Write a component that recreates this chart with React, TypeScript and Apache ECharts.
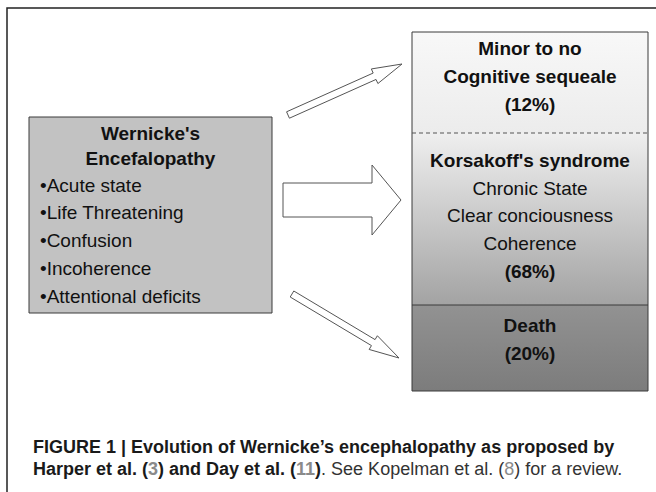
import React, { useEffect, useRef } from "react";
import * as echarts from "echarts";

// ---- content (text of the diagram) ----
const leftTitle = ["Wernicke's", "Encefalopathy"];
const leftBullets = ["Acute state", "Life Threatening", "Confusion", "Incoherence", "Attentional deficits"];
const outcomeTitles = [["Minor to no", "Cognitive sequeale"], ["Korsakoff's syndrome"], ["Death"]];
const outcomeDetails = [[], ["Chronic State", "Clear conciousness", "Coherence"], []];
const outcomePercents = [12, 68, 20];
const captionLine1 = "FIGURE 1 | Evolution of Wernicke\u2019s encephalopathy as proposed by";
const captionRefs = ["3", "11", "8"];

const FONT = "'Liberation Sans', Arial, Helvetica, sans-serif";

function arrowPoints(tail: number[], tip: number[], sh: number, hh: number, hl: number) {
  const dx = tip[0] - tail[0];
  const dy = tip[1] - tail[1];
  const len = Math.sqrt(dx * dx + dy * dy);
  const ux = dx / len, uy = dy / len;
  const px = -uy, py = ux;
  const bx = tip[0] - ux * hl, by = tip[1] - uy * hl;
  return [
    [tail[0] + px * sh, tail[1] + py * sh],
    [bx + px * sh, by + py * sh],
    [bx + px * hh, by + py * hh],
    [tip[0], tip[1]],
    [bx - px * hh, by - py * hh],
    [bx - px * sh, by - py * sh],
    [tail[0] - px * sh, tail[1] - py * sh],
  ];
}

function txt(text: string, x: number, y: number, size: number, weight: string, align = "center", fill = "#111") {
  return {
    type: "text",
    style: {
      text,
      x,
      y,
      font: `${weight} ${size}px ${FONT}`,
      fill,
      align,
      textAlign: align,
      verticalAlign: "middle",
      textVerticalAlign: "middle",
    },
    z: 10,
  };
}

export default function App() {
  const ref = useRef<HTMLDivElement>(null);
  useEffect(() => {
    if (!ref.current) return;
    const chart = echarts.init(ref.current, null, { renderer: "svg" });
    const els: any[] = [];

    // outer frame
    els.push({
      type: "rect",
      shape: { x: 7, y: 8, width: 700, height: 600 },
      style: { fill: "none", stroke: "#222", lineWidth: 1.5 },
    });

    // left box
    const lb = { x: 29, y: 117, w: 243, h: 196 };
    els.push({
      type: "rect",
      shape: { x: lb.x, y: lb.y, width: lb.w, height: lb.h },
      style: { fill: "#c2c2c2", stroke: "#3a3a3a", lineWidth: 1 },
    });
    const lcx = lb.x + lb.w / 2;
    leftTitle.forEach((t, i) => els.push(txt(t, lcx, 133 + i * 25, 19, "bold")));
    leftBullets.forEach((t, i) => els.push(txt("\u2022" + t, 40, 185 + i * 27.8, 19, "normal", "left")));

    // right box sections
    const rx = 412, rw = 236;
    const secY = [32, 133, 305, 391];
    const grads = [
      ["#f8f8f8", "#ececec"],
      ["#efefef", "#a3a3a3"],
      ["#929292", "#7c7c7c"],
    ];
    for (let i = 0; i < 3; i++) {
      els.push({
        type: "rect",
        shape: { x: rx, y: secY[i], width: rw, height: secY[i + 1] - secY[i] },
        style: {
          fill: new echarts.graphic.LinearGradient(0, 0, 0, 1, [
            { offset: 0, color: grads[i][0] },
            { offset: 1, color: grads[i][1] },
          ]),
          stroke: "none",
        },
      });
    }
    els.push({
      type: "rect",
      shape: { x: rx, y: secY[0], width: rw, height: secY[3] - secY[0] },
      style: { fill: "none", stroke: "#3a3a3a", lineWidth: 1 },
      z: 5,
    });
    els.push({
      type: "line",
      shape: { x1: rx, y1: secY[1], x2: rx + rw, y2: secY[1] },
      style: { stroke: "#555", lineWidth: 1, lineDash: [4, 3] },
      z: 5,
    });
    els.push({
      type: "line",
      shape: { x1: rx, y1: secY[2], x2: rx + rw, y2: secY[2] },
      style: { stroke: "#3a3a3a", lineWidth: 1 },
      z: 5,
    });

    const rcx = rx + rw / 2;
    const startY = [48, 160, 325];
    for (let i = 0; i < 3; i++) {
      let y = startY[i];
      outcomeTitles[i].forEach((t) => {
        els.push(txt(t, rcx, y, 19, "bold"));
        y += 28;
      });
      outcomeDetails[i].forEach((t) => {
        els.push(txt(t, rcx, y, 19, "normal"));
        y += 27.7;
      });
      els.push(txt(`(${outcomePercents[i]}%)`, rcx, y, 19, "bold"));
    }

    // arrows
    const arrowStyle = { fill: "#ffffff", stroke: "#555", lineWidth: 1 };
    els.push({
      type: "polygon",
      shape: { points: arrowPoints([288, 115], [402, 64], 3.5, 8, 30) },
      style: arrowStyle,
    });
    els.push({
      type: "polygon",
      shape: { points: arrowPoints([292, 294], [399, 358], 3.5, 8, 30) },
      style: arrowStyle,
    });
    els.push({
      type: "polygon",
      shape: {
        points: [
          [283, 183],
          [372, 183],
          [372, 165],
          [401, 200],
          [372, 235],
          [372, 217],
          [283, 217],
        ],
      },
      style: arrowStyle,
    });

    // caption
    els.push(txt(captionLine1, 33, 447, 18, "bold", "left", "#1a1a1a"));
    const rich = {
      b: { fontWeight: "bold", fontSize: 18, fontFamily: "Liberation Sans, Arial, sans-serif", fill: "#1a1a1a", color: "#1a1a1a" },
      g: { fontWeight: "bold", fontSize: 18, fontFamily: "Liberation Sans, Arial, sans-serif", fill: "#8a8a8a", color: "#8a8a8a" },
      r: { fontWeight: "normal", fontSize: 18, fontFamily: "Liberation Sans, Arial, sans-serif", fill: "#333", color: "#333" },
      rg: { fontWeight: "normal", fontSize: 18, fontFamily: "Liberation Sans, Arial, sans-serif", fill: "#8a8a8a", color: "#8a8a8a" },
    };
    els.push({
      type: "text",
      style: {
        text:
          `{b|Harper et al. (}{g|${captionRefs[0]}}{b|) and Day et al. (}{g|${captionRefs[1]}}{b|)}` +
          `{r|. See Kopelman et al. (}{rg|${captionRefs[2]}}{r|) for a review.}`,
        rich,
        x: 33,
        y: 469,
        font: `normal 18px ${FONT}`,
        align: "left",
        textAlign: "left",
        verticalAlign: "middle",
        textVerticalAlign: "middle",
      },
      z: 10,
    });

    chart.setOption({
      animation: false,
      backgroundColor: "#ffffff",
      graphic: { elements: els },
    });
    return () => chart.dispose();
  }, []);
  return (
    <div
      ref={ref}
      style={{ position: "fixed", left: 0, top: 0, width: 656, height: 492, background: "#fff" }}
    />
  );
}
